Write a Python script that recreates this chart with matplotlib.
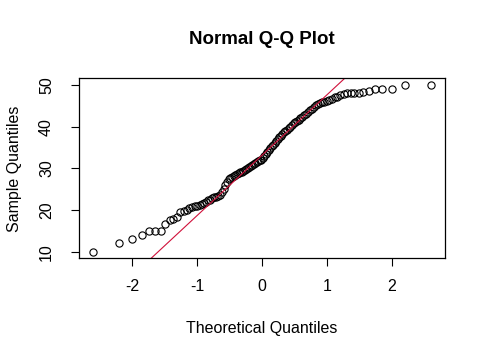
import numpy as np
import matplotlib
matplotlib.use('Agg')
import matplotlib.pyplot as plt
from statistics import NormalDist

# sorted sample values (n = 110)
sample = [10, 12, 13, 14, 15, 15, 15, 16.6, 17.6, 17.8,
          18.2, 19.6, 19.8, 20.0, 20.4, 20.7, 21.0, 21.0, 21.2, 21.4,
          21.7, 22.0, 22.3, 22.5, 22.8, 23.0, 23.2, 23.3, 23.6, 24.2,
          25.0, 26.0, 26.8, 27.4, 27.7, 28.0, 28.2, 28.4, 28.6, 28.8,
          29.0, 29.2, 29.4, 29.6, 29.8, 30.0, 30.3, 30.6, 30.9, 31.1,
          31.3, 31.5, 31.7, 31.9, 32.1, 32.5, 33.0, 33.4, 33.8, 34.3,
          34.8, 35.3, 35.7, 36.1, 36.5, 37.0, 37.4, 37.8, 38.2, 38.6,
          38.9, 39.3, 39.6, 40.0, 40.4, 40.8, 41.2, 41.4, 41.7, 42.0,
          42.3, 42.7, 43.0, 43.5, 43.9, 44.3, 44.7, 45.1, 45.4, 45.6,
          45.8, 46.0, 46.2, 46.5, 46.7, 47.0, 47.2, 47.5, 47.8, 48.0,
          48.0, 48.0, 48.0, 48.2, 48.5, 49.0, 49.0, 49.0, 50.0, 50.0]

title = 'Normal Q-Q Plot'
xlabel = 'Theoretical Quantiles'
ylabel = 'Sample Quantiles'
xticks = [-2, -1, 0, 1, 2]
yticks = [10, 20, 30, 40, 50]

plt.rcParams['font.family'] = ['Liberation Sans', 'DejaVu Sans']

y = np.sort(np.array(sample))
n = len(y)
nd = NormalDist()
# R's ppoints for n > 10
x = np.array([nd.inv_cdf((i + 0.5) / n) for i in range(n)])

# qqline through the quartiles
q1, q3 = np.quantile(y, [0.25, 0.75])
z1, z3 = nd.inv_cdf(0.25), nd.inv_cdf(0.75)
slope = (q3 - q1) / (z3 - z1)
icpt = q1 - slope * z1

fig = plt.figure(figsize=(4.85, 3.56), dpi=100)
ax = fig.add_axes([0.163, 0.2744, 0.7545, 0.5056])

ax.plot(x, y, 'o', mfc='none', mec='black', ms=5.2, mew=0.8)

def ext(lo, hi):
    d = (hi - lo) * 0.04
    return lo - d, hi + d

xl = ext(x.min(), x.max())
yl = ext(y.min(), y.max())
ax.set_xlim(xl)
ax.set_ylim(yl)

xx = np.array(xl)
ax.plot(xx, icpt + slope * xx, color='#d0103a', lw=0.8)

ax.set_xticks(xticks)
ax.set_yticks(yticks)
ax.set_xticklabels([str(v) for v in xticks])
ax.set_yticklabels([str(v) for v in yticks], rotation=90, va='center')
ax.tick_params(direction='out', length=6, width=0.8, labelsize=11.5)
ax.tick_params(axis='x', pad=9)
ax.tick_params(axis='y', pad=12)
for s in ax.spines.values():
    s.set_linewidth(0.9)

ax.set_title(title, fontsize=13.5, fontweight='bold', pad=25)
ax.set_xlabel(xlabel, fontsize=11.5, labelpad=19)
ax.set_ylabel(ylabel, fontsize=11.5, labelpad=12)

fig.savefig('out.png', dpi=100)
